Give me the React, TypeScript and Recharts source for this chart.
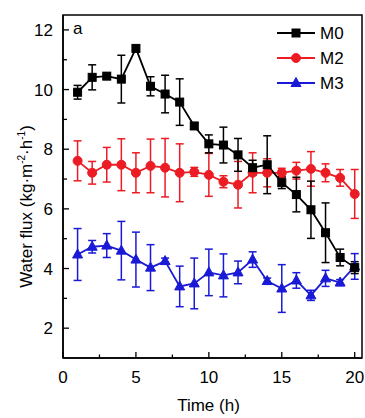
import React from "react";
import { LineChart, Line, XAxis, YAxis, ErrorBar, ReferenceArea, Legend } from "recharts";

const time = [1, 2, 3, 4, 5, 6, 7, 8, 9, 10, 11, 12, 13, 14, 15, 16, 17, 18, 19, 20];
const m0 = [9.91, 10.41, 10.45, 10.35, 11.38, 10.11, 9.85, 9.58, 8.78, 8.18, 8.14, 7.81, 7.38, 7.48, 6.88, 6.48, 5.97, 5.2, 4.37, 4.03];
const m0Err = [0.23, 0.42, 0.1, 0.8, 0.1, 0.32, 0.63, 0.78, 0.1, 0.3, 0.6, 0.55, 0.25, 0.97, 0.2, 0.58, 0.96, 1.0, 0.28, 0.2];
const m2 = [7.61, 7.21, 7.48, 7.48, 7.21, 7.44, 7.38, 7.21, 7.24, 7.14, 6.91, 6.81, 7.21, 7.21, 7.21, 7.28, 7.34, 7.21, 7.04, 6.5];
const m2Err = [0.67, 0.38, 0.58, 0.87, 0.67, 0.9, 0.98, 0.97, 0.15, 0.72, 0.2, 0.78, 0.67, 0.47, 0.15, 0.28, 0.58, 0.3, 0.28, 0.82];
const m3 = [4.47, 4.73, 4.77, 4.6, 4.3, 4.03, 4.25, 3.4, 3.5, 3.87, 3.77, 3.87, 4.3, 3.58, 3.33, 3.6, 3.1, 3.67, 3.53, 4.07];
const m3Err = [0.87, 0.21, 0.4, 0.98, 0.92, 0.77, 0.1, 0.68, 0.85, 0.78, 0.72, 0.38, 0.26, 0.1, 0.8, 0.26, 0.17, 0.27, 0.1, 0.43];

const yTicks = [2, 3, 4, 5, 6, 7, 8, 9, 10, 11, 12];
const xTicks = [0, 2.5, 5, 7.5, 10, 12.5, 15, 17.5, 20];

const seriesNames = ["M0", "M2", "M3"];
const seriesColors = ["#000000", "#ec1c24", "#1a1ad6"];
const seriesShapes = ["square", "circle", "triangle"];

const data = time.map((t, i) => ({
  t,
  m0: m0[i],
  m0e: m0Err[i],
  m2: m2[i],
  m2e: m2Err[i],
  m3: m3[i],
  m3e: m3Err[i],
}));

const FONT = "'Liberation Sans', Arial, sans-serif";

function Marker({ shape, cx, cy, color }: { shape: string; cx: number; cy: number; color: string }) {
  if (shape === "square") {
    return <rect x={cx - 4} y={cy - 4} width={8} height={8} fill={color} stroke={color} />;
  }
  if (shape === "circle") {
    return <circle cx={cx} cy={cy} r={4.5} fill={color} stroke={color} />;
  }
  return (
    <polygon
      points={`${cx},${cy - 5.5} ${cx + 5},${cy + 3.5} ${cx - 5},${cy + 3.5}`}
      fill={color}
      stroke={color}
    />
  );
}

const makeDot = (idx: number) => (props: any) => {
  const { cx, cy, index } = props;
  if (cx == null || cy == null) return <g key={`d${idx}-${index}`} />;
  return (
    <g key={`d${idx}-${index}`}>
      <Marker shape={seriesShapes[idx]} cx={cx} cy={cy} color={seriesColors[idx]} />
    </g>
  );
};

const YTick = (props: any) => {
  const { x, y, payload } = props;
  const axisX = x + 10;
  const major = payload.value % 2 === 0;
  return (
    <g>
      <line x1={axisX} x2={axisX + (major ? 6 : 4)} y1={y} y2={y} stroke="#000" strokeWidth={1.3} />
      {major && (
        <text x={x} y={y} dy="0.36em" textAnchor="end" fontSize={17} fontFamily={FONT} fill="#000">
          {payload.value}
        </text>
      )}
    </g>
  );
};

const XTick = (props: any) => {
  const { x, y, payload } = props;
  const axisY = y - 13;
  const major = payload.value % 5 === 0;
  return (
    <g>
      <line x1={x} x2={x} y1={axisY} y2={axisY - (major ? 6 : 3.5)} stroke="#000" strokeWidth={1.3} />
      {major && (
        <text x={x} y={y} dy="0.71em" textAnchor="middle" fontSize={17} fontFamily={FONT} fill="#000">
          {payload.value}
        </text>
      )}
    </g>
  );
};

const YLabel = (props: any) => {
  const vb = props.viewBox || { x: 13, y: 15, width: 50, height: 343 };
  const cx = vb.x + 19;
  const cy = vb.y + vb.height / 2 + 20;
  return (
    <text
      x={cx}
      y={cy}
      transform={`rotate(-90 ${cx} ${cy})`}
      textAnchor="middle"
      fontSize={17}
      fontFamily={FONT}
      fill="#000"
    >
      <tspan>Water flux (kg·m</tspan>
      <tspan dy={-7} fontSize={10}>-2</tspan>
      <tspan dy={7}>·h</tspan>
      <tspan dy={-7} fontSize={10}>-1</tspan>
      <tspan dy={7}>)</tspan>
    </text>
  );
};

const XLabel = (props: any) => {
  const vb = props.viewBox || { x: 63, y: 358, width: 299, height: 30 };
  return (
    <text
      x={vb.x + vb.width / 2 - 4}
      y={vb.y + 53}
      textAnchor="middle"
      fontSize={17}
      fontFamily={FONT}
      fill="#000"
    >
      Time (h)
    </text>
  );
};

const LegendContent = () => (
  <svg width={90} height={80} style={{ display: "block" }}>
    {seriesNames.map((name, i) => {
      const cy = 13 + i * 25;
      return (
        <g key={name}>
          <line x1={5} x2={43} y1={cy} y2={cy} stroke={seriesColors[i]} strokeWidth={1.8} />
          <Marker shape={seriesShapes[i]} cx={24} cy={cy} color={seriesColors[i]} />
          <text x={48} y={cy} dy="0.36em" fontSize={17} fontFamily={FONT} fill="#000">
            {name}
          </text>
        </g>
      );
    })}
  </svg>
);

export default function App() {
  return (
    <div style={{ position: "absolute", left: 0, top: 0, width: 365, height: 418, background: "#fff" }}>
      <LineChart
        width={365}
        height={418}
        data={data}
        margin={{ top: 15, right: 3, bottom: 30, left: 13 }}
      >
        <XAxis
          dataKey="t"
          type="number"
          domain={[0, 20.5]}
          ticks={xTicks}
          interval={0}
          tickSize={0}
          tickMargin={13}
          tickLine={false}
          tick={<XTick />}
          axisLine={{ stroke: "#000", strokeWidth: 1.5 }}
          height={30}
          label={<XLabel />}
        />
        <YAxis
          type="number"
          domain={[1, 12.5]}
          ticks={yTicks}
          interval={0}
          tickSize={0}
          tickMargin={10}
          tickLine={false}
          tick={<YTick />}
          axisLine={{ stroke: "#000", strokeWidth: 1.5 }}
          width={50}
          label={<YLabel />}
          allowDataOverflow
        />
        <ReferenceArea x1={0} x2={20.5} y1={1} y2={12.5} fill="none" stroke="#000" strokeWidth={1.5} />
        <Legend
          layout="vertical"
          align="center"
          verticalAlign="middle"
          content={<LegendContent />}
          wrapperStyle={{ position: "absolute", left: 272, top: 20, width: 90, height: 80 }}
        />
        <Line
          dataKey="m3"
          stroke={seriesColors[2]}
          strokeWidth={1.8}
          dot={makeDot(2)}
          activeDot={false}
          isAnimationActive={false}
        >
          <ErrorBar dataKey="m3e" width={4} stroke={seriesColors[2]} strokeWidth={1.5} direction="y" />
        </Line>
        <Line
          dataKey="m2"
          stroke={seriesColors[1]}
          strokeWidth={1.8}
          dot={makeDot(1)}
          activeDot={false}
          isAnimationActive={false}
        >
          <ErrorBar dataKey="m2e" width={4} stroke={seriesColors[1]} strokeWidth={1.5} direction="y" />
        </Line>
        <Line
          dataKey="m0"
          stroke={seriesColors[0]}
          strokeWidth={1.8}
          dot={makeDot(0)}
          activeDot={false}
          isAnimationActive={false}
        >
          <ErrorBar dataKey="m0e" width={4} stroke={seriesColors[0]} strokeWidth={1.5} direction="y" />
        </Line>
      </LineChart>
      <div
        style={{
          position: "absolute",
          left: 73,
          top: 19,
          fontSize: 17,
          fontFamily: FONT,
          lineHeight: "20px",
          color: "#000",
        }}
      >
        a
      </div>
    </div>
  );
}
